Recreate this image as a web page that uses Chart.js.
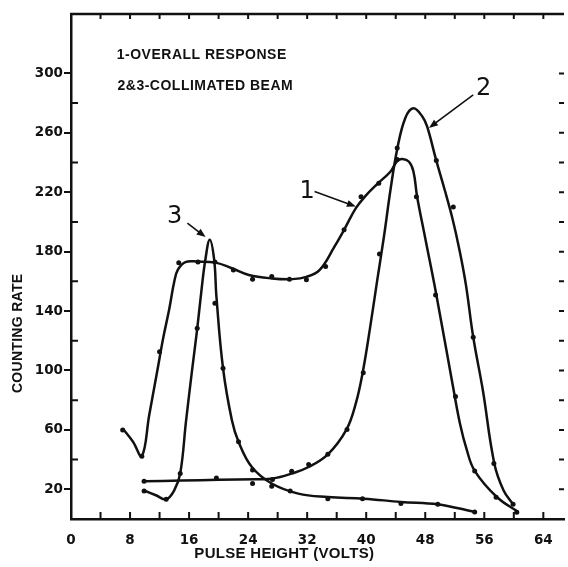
<!DOCTYPE html>
<html lang="en">
<head>
<meta charset="UTF-8">
<title>Counting Rate vs Pulse Height</title>
<style>
body { margin: 0; background: #fff; overflow: hidden; }
#wrap { width: 568px; height: 567px; }
</style>
</head>
<body>
<div id="wrap"><canvas id="chart" width="568" height="567"></canvas></div>
<script src="https://cdn.jsdelivr.net/npm/chart.js"></script>
<script>
// curve 1 - overall response (drawn line)
const curve1X = [7, 8.4, 9.6, 10.6, 11.7, 12.5, 13.3, 14, 14.5, 15.5, 17.2, 19.6, 21.8, 24.1, 27.2, 30, 31.9, 33.7, 35.7, 37, 38.6, 40, 41.6, 43.3, 44.2, 44.9, 45.8, 46.4, 46.9, 48, 49.5, 51.8, 52.7, 53.6, 54.7, 57.7, 60.6];
const curve1Y = [61, 52, 42.3, 70, 100, 122, 141, 160, 168, 173, 173.3, 172.6, 168.8, 164.3, 162, 161.5, 163, 167.7, 183.4, 194.7, 209.3, 218, 226, 234, 241, 242.3, 240.5, 234, 217, 189, 151, 88, 64.3, 47, 32.4, 14.8, 4.7];
// curve 1 measured points
const dots1X = [7, 9.6, 12, 14.6, 17.2, 19.5, 22, 24.6, 27.2, 29.6, 31.9, 34.5, 37, 39.3, 41.7, 44.2, 46.8, 49.4, 52.1, 54.7, 57.6, 60.4];
const dots1Y = [60, 42.3, 112.6, 172.6, 173, 173, 167.7, 161.4, 163.2, 161.4, 161, 170, 194.7, 217, 226, 242, 217, 150.8, 82.5, 32.4, 14.6, 4.5];

// curve 2 - collimated beam, high peak
const curve2X = [9.9, 15, 20, 25, 27.3, 29.9, 32.2, 34.8, 37.3, 38.6, 39.5, 40.5, 41.5, 42.4, 43.3, 44.2, 45.3, 46.4, 47.6, 48.25, 49.46, 50.67, 51.7, 52.6, 53.5, 54.5, 55.8, 57.35, 58.6, 59.9];
const curve2Y = [25.4, 25.9, 26.4, 26.8, 27.2, 30.6, 35, 43.5, 60, 78, 98, 128, 161, 190, 222, 249, 270, 276.5, 271, 264.3, 242, 221, 202, 182, 158, 122.5, 86.8, 37.6, 19.4, 9.9];
const dots2X = [9.9, 19.7, 24.6, 27.3, 29.9, 32.2, 34.8, 37.4, 39.6, 41.8, 44.2, 49.5, 51.8, 54.5, 57.3, 59.9];
const dots2Y = [25.4, 27.6, 23.9, 26.6, 32.2, 36.7, 43.6, 60.3, 98.5, 178.5, 249.8, 241.4, 210, 122.3, 37.3, 9.9];

// curve 3 - collimated beam, low peak
const curve3X = [9.9, 11.5, 12.9, 14, 14.8, 15.6, 16.4, 17.1, 17.7, 18.2, 18.8, 19.4, 19.7, 20.6, 21.8, 22.7, 24.5, 27.2, 30.8, 34.8, 39.7, 44.7, 49.7, 52.3, 54.7];
const curve3Y = [19.2, 16, 13.3, 19.4, 30.6, 66.5, 100, 128, 155, 174.4, 188, 174.4, 150, 101.5, 66.5, 52, 35, 23.9, 17.1, 14.8, 13.7, 11.5, 9.9, 7.4, 4.7];
const dots3X = [9.9, 12.9, 14.8, 17.1, 19.5, 20.6, 22.7, 24.6, 27.2, 29.7, 34.8, 39.5, 44.7, 49.7, 54.7];
const dots3Y = [18.9, 13.3, 30.6, 128.4, 145.2, 101.5, 52, 33, 22, 18.9, 13.7, 13.7, 10.4, 9.9, 4.7];

// ticks
const xLabels = [0, 8, 16, 24, 32, 40, 48, 56, 64];
const xMinorTicks = [4, 8, 12, 16, 20, 24, 28, 32, 36, 40, 44, 48, 52, 56, 60, 64];
const yLabels = [20, 60, 100, 140, 180, 220, 260, 300];
const yInnerTicks = [40, 80, 120, 160, 200, 240, 280];
const yRightTicks = [20, 40, 60, 80, 100, 120, 140, 160, 180, 200, 220, 240, 260, 280, 300];

// notes and labels (data units)
const notes = [
  { text: '1-OVERALL RESPONSE', x: 6.2, y: 310 },
  { text: '2&3-COLLIMATED BEAM', x: 6.3, y: 288.5 }
];
const curveLabels = [
  { text: '3', x: 14.05, y: 203.7, fromX: 15.77, fromY: 199.2, toX: 18.24, toY: 189.8 },
  { text: '1', x: 32, y: 220.2, fromX: 33.0, fromY: 220.5, toX: 38.6, toY: 210.4 },
  { text: '2', x: 55.9, y: 289.7, fromX: 54.5, fromY: 285.6, toX: 48.5, toY: 263.3 }
];

const ink = '#111';
const zip = (xs, ys) => xs.map((x, i) => ({ x: x, y: ys[i] }));

function arrow(ctx, x1, y1, x2, y2) {
  const ang = Math.atan2(y2 - y1, x2 - x1);
  const len = 9, half = 3.5;
  ctx.beginPath();
  ctx.moveTo(x1, y1);
  ctx.lineTo(x2 - len * 0.6 * Math.cos(ang), y2 - len * 0.6 * Math.sin(ang));
  ctx.stroke();
  ctx.beginPath();
  ctx.moveTo(x2, y2);
  ctx.lineTo(x2 - len * Math.cos(ang) + half * Math.sin(ang), y2 - len * Math.sin(ang) - half * Math.cos(ang));
  ctx.lineTo(x2 - len * Math.cos(ang) - half * Math.sin(ang), y2 - len * Math.sin(ang) + half * Math.cos(ang));
  ctx.closePath();
  ctx.fill();
}

const decorations = {
  id: 'decorations',
  afterDraw(chart) {
    const ctx = chart.ctx, a = chart.chartArea;
    const px = v => chart.scales.x.getPixelForValue(v);
    const py = v => chart.scales.y.getPixelForValue(v);
    ctx.save();
    ctx.strokeStyle = ink;
    ctx.fillStyle = ink;

    // top frame line
    ctx.lineWidth = 2.5;
    ctx.beginPath();
    ctx.moveTo(a.left - 1, a.top);
    ctx.lineTo(a.right, a.top);
    ctx.stroke();

    // inward tick marks
    ctx.lineWidth = 2;
    ctx.beginPath();
    xMinorTicks.forEach(v => {
      ctx.moveTo(px(v), a.bottom);
      ctx.lineTo(px(v), a.bottom - 7);
      ctx.moveTo(px(v), a.top);
      ctx.lineTo(px(v), a.top + 5);
    });
    yInnerTicks.forEach(v => {
      ctx.moveTo(a.left, py(v));
      ctx.lineTo(a.left + 7, py(v));
    });
    yRightTicks.forEach(v => {
      ctx.moveTo(a.right, py(v));
      ctx.lineTo(a.right - 5, py(v));
    });
    ctx.stroke();

    // notes
    ctx.font = 'bold 14px "Liberation Sans", Arial, sans-serif';
    ctx.letterSpacing = '0.5px';
    ctx.textAlign = 'left';
    ctx.textBaseline = 'alphabetic';
    notes.forEach(n => ctx.fillText(n.text, px(n.x), py(n.y)));

    // axis titles
    ctx.font = 'bold 15px "Liberation Sans", Arial, sans-serif';
    ctx.letterSpacing = '0.3px';
    ctx.textAlign = 'center';
    ctx.textBaseline = 'middle';
    ctx.fillText('PULSE HEIGHT (VOLTS)', px(28.9), a.bottom + 35);
    ctx.save();
    ctx.translate(a.left - 52.5, py(125));
    ctx.rotate(-Math.PI / 2);
    ctx.font = 'bold 14px "Liberation Sans", Arial, sans-serif';
    ctx.fillText('COUNTING RATE', 0, 0);
    ctx.restore();

    // curve numbers with arrows
    ctx.letterSpacing = '0px';
    ctx.font = '24px "DejaVu Sans", sans-serif';
    ctx.lineWidth = 1.6;
    curveLabels.forEach(c => {
      ctx.fillText(c.text, px(c.x), py(c.y));
      arrow(ctx, px(c.fromX), py(c.fromY), px(c.toX), py(c.toY));
    });
    ctx.restore();
  }
};

const lineStyle = { borderColor: ink, borderWidth: 2.5, pointRadius: 0, tension: 0.4, fill: false };
const dotStyle = { type: 'scatter', backgroundColor: ink, borderColor: ink, borderWidth: 0, pointRadius: 2.5, showLine: false };
const tickFont = { family: '"DejaVu Sans", sans-serif', size: 13.5, weight: 'bold' };

new Chart(document.getElementById('chart'), {
  type: 'line',
  data: {
    datasets: [
      Object.assign({ label: 'Overall response', data: zip(curve1X, curve1Y) }, lineStyle),
      Object.assign({ label: 'Collimated beam (2)', data: zip(curve2X, curve2Y) }, lineStyle),
      Object.assign({ label: 'Collimated beam (3)', data: zip(curve3X, curve3Y) }, lineStyle),
      Object.assign({ label: 'Points 1', data: zip(dots1X, dots1Y) }, dotStyle),
      Object.assign({ label: 'Points 2', data: zip(dots2X, dots2Y) }, dotStyle),
      Object.assign({ label: 'Points 3', data: zip(dots3X, dots3Y) }, dotStyle)
    ]
  },
  options: {
    responsive: false,
    animation: false,
    devicePixelRatio: 1,
    layout: { padding: { top: 14, right: 0, bottom: 0, left: 0 } },
    plugins: { legend: { display: false }, tooltip: { enabled: false } },
    scales: {
      x: {
        type: 'linear',
        min: 0,
        max: 66.8,
        afterBuildTicks: s => { s.ticks = xLabels.map(v => ({ value: v })); },
        afterFit: s => { s.height = 48; },
        grid: { display: false },
        border: { display: true, color: ink, width: 2.5 },
        ticks: { color: ink, padding: 5, font: tickFont, maxRotation: 0, autoSkip: false }
      },
      y: {
        min: 0,
        max: 340,
        afterBuildTicks: s => { s.ticks = yLabels.map(v => ({ value: v })); },
        afterFit: s => { s.width = 71; },
        grid: { display: true, drawOnChartArea: false, drawTicks: true, tickLength: 7, color: ink, lineWidth: 2 },
        border: { display: true, color: ink, width: 2.5 },
        ticks: { color: ink, padding: 1, font: tickFont, autoSkip: false }
      }
    }
  },
  plugins: [decorations]
});
</script>
</body>
</html>
